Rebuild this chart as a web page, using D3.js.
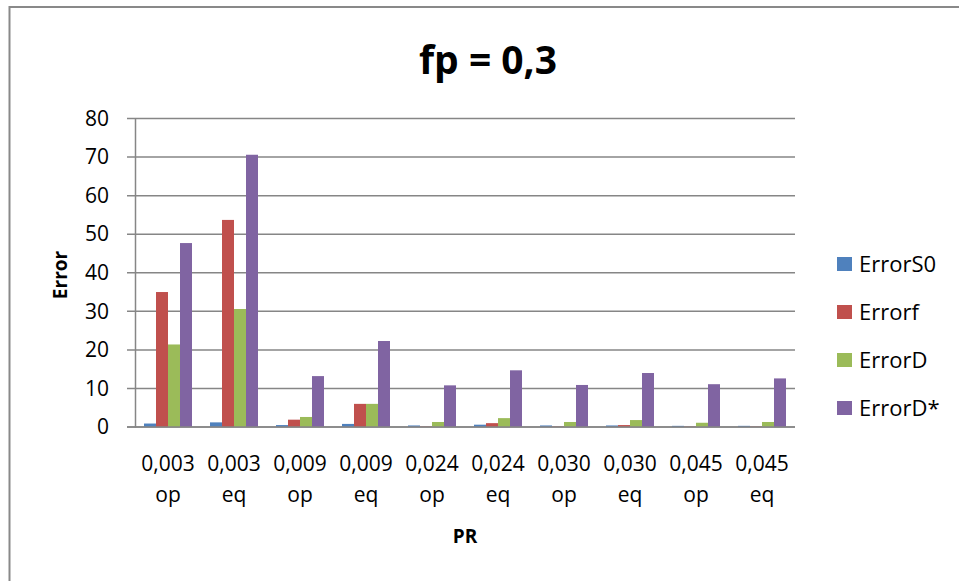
<!DOCTYPE html>
<html>
<head>
<meta charset="utf-8">
<script src="https://cdn.jsdelivr.net/npm/d3@7"></script>
<style>
  html, body { margin: 0; padding: 0; background: #fff; }
  svg { display: block; font-family: "Open Sans", "Liberation Sans", sans-serif; }
</style>
</head>
<body>
<svg id="chart" width="959" height="581"></svg>
<script>
// PR categories: rate value (first line) and regime (second line)
const rates   = ["0,003", "0,003", "0,009", "0,009", "0,024", "0,024", "0,030", "0,030", "0,045", "0,045"];
const regimes = ["op", "eq", "op", "eq", "op", "eq", "op", "eq", "op", "eq"];

const seriesNames = ["ErrorS0", "Errorf", "ErrorD", "ErrorD*"];
const errorS0 = [0.9, 1.2, 0.5, 0.8, 0.4, 0.6, 0.4, 0.4, 0.3, 0.3];
const errorF  = [35.0, 53.7, 1.9, 6.0, 0.1, 1.0, 0.1, 0.5, 0.1, 0.1];
const errorD  = [21.4, 30.6, 2.6, 6.0, 1.3, 2.3, 1.3, 1.8, 1.1, 1.3];
const errorDs = [47.7, 70.6, 13.2, 22.3, 10.8, 14.7, 10.9, 14.0, 11.1, 12.6];

const yTicks = [0, 10, 20, 30, 40, 50, 60, 70, 80];
const colors = ["#4F81BD", "#C0504D", "#9BBB59", "#8064A2"];

const seriesValues = [errorS0, errorF, errorD, errorDs];
const categories = rates.map((r, i) => i);

const svg = d3.select("#chart");

// outer chart frame
svg.append("rect")
  .attr("x", 9.5).attr("y", 7)
  .attr("width", 980).attr("height", 600)
  .attr("fill", "#fff")
  .attr("stroke", "#898989").attr("stroke-width", 2);

const plot = { left: 135, right: 795, top: 118.5, bottom: 427 };

const x = d3.scaleBand()
  .domain(categories)
  .range([plot.left, plot.right])
  .paddingInner(18 / 66)
  .paddingOuter(9 / 66);

const xSub = d3.scaleBand()
  .domain(d3.range(seriesNames.length))
  .range([0, x.bandwidth()]);

const y = d3.scaleLinear().domain([0, 80]).range([plot.bottom, plot.top]);

// horizontal gridlines
svg.append("g")
  .selectAll("line")
  .data(yTicks)
  .join("line")
  .attr("x1", plot.left - 8).attr("x2", plot.right)
  .attr("y1", d => y(d)).attr("y2", d => y(d))
  .attr("stroke", "#868686").attr("stroke-width", 1.5);

// y axis
const yAxis = svg.append("g")
  .attr("transform", `translate(${plot.left},0)`)
  .call(d3.axisLeft(y).tickValues(yTicks).tickSize(0).tickPadding(26));
yAxis.select(".domain").attr("stroke", "#868686").attr("stroke-width", 1.5);
yAxis.selectAll("text")
  .attr("font-size", 21).attr("fill", "#000")
  .attr("font-family", "Open Sans, sans-serif");

// bars
const groups = svg.append("g")
  .selectAll("g")
  .data(categories)
  .join("g")
  .attr("transform", d => `translate(${x(d)},0)`);

groups.selectAll("rect")
  .data(i => seriesValues.map((vals, s) => ({ s, v: vals[i] })))
  .join("rect")
  .attr("x", d => xSub(d.s))
  .attr("width", xSub.bandwidth())
  .attr("y", d => y(d.v))
  .attr("height", d => y(0) - y(d.v))
  .attr("fill", d => colors[d.s]);

// x axis line on top of bars
svg.append("line")
  .attr("x1", plot.left - 8).attr("x2", plot.right)
  .attr("y1", y(0)).attr("y2", y(0))
  .attr("stroke", "#868686").attr("stroke-width", 1.5);

// x category labels (two lines)
const xl = svg.append("g")
  .selectAll("text")
  .data(categories)
  .join("text")
  .attr("text-anchor", "middle")
  .attr("font-size", 21)
  .attr("fill", "#000");
xl.append("tspan")
  .attr("x", d => x(d) + x.bandwidth() / 2)
  .attr("y", 471)
  .text(d => rates[d]);
xl.append("tspan")
  .attr("x", d => x(d) + x.bandwidth() / 2)
  .attr("y", 502)
  .text(d => regimes[d]);

// titles
svg.append("text")
  .attr("x", 488).attr("y", 74)
  .attr("text-anchor", "middle")
  .attr("font-size", 39).attr("font-weight", "bold")
  .text("fp = 0,3");

svg.append("text")
  .attr("x", 465).attr("y", 543)
  .attr("text-anchor", "middle")
  .attr("font-size", 19).attr("font-weight", "bold")
  .text("PR");

svg.append("text")
  .attr("transform", "translate(67,275) rotate(-90)")
  .attr("text-anchor", "middle")
  .attr("font-size", 19).attr("font-weight", "bold")
  .text("Error");

// legend
const legend = svg.append("g")
  .selectAll("g")
  .data(seriesNames)
  .join("g")
  .attr("transform", (d, i) => `translate(837,${257 + i * 48})`);
legend.append("rect")
  .attr("width", 15).attr("height", 14)
  .attr("fill", (d, i) => colors[i]);
legend.append("text")
  .attr("x", 22).attr("y", 15)
  .attr("font-size", 22)
  .text(d => d);
</script>
</body>
</html>
